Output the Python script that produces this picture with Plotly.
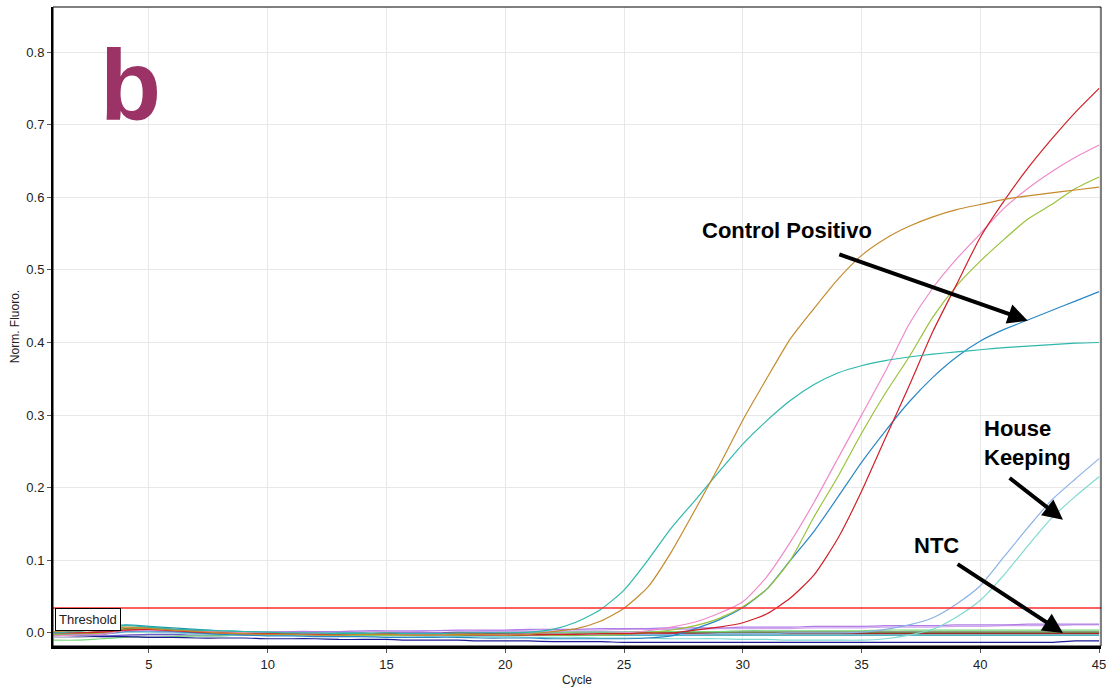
import plotly.graph_objects as go

cycles = list(range(1, 46))

brown = [0.002, 0.003, 0.004, 0.008, 0.006, 0.004, 0.002, 0.0, -0.001, -0.002, -0.002, -0.003, -0.003, -0.002, -0.002,
         -0.003, -0.003, -0.002, -0.002, -0.003, -0.002, 0.002, 0.006, 0.016, 0.034, 0.063, 0.112, 0.17, 0.23, 0.293,
         0.35, 0.405, 0.447, 0.487, 0.52, 0.543, 0.56, 0.573, 0.583, 0.59, 0.597, 0.602, 0.606, 0.61, 0.614]
teal = [0.0, 0.002, 0.006, 0.01, 0.008, 0.005, 0.004, 0.003, 0.002, 0.001, 0.0, 0.0, -0.001, -0.001, 0.0,
        -0.001, -0.001, 0.0, 0.0, 0.0, 0.001, 0.005, 0.015, 0.032, 0.059, 0.1, 0.145, 0.183, 0.222, 0.26,
        0.292, 0.32, 0.342, 0.358, 0.368, 0.375, 0.38, 0.384, 0.387, 0.39, 0.393, 0.395, 0.397, 0.399, 0.4]
pink = [-0.004, -0.003, -0.002, 0.003, 0.004, 0.003, 0.002, 0.001, 0.0, 0.0, -0.001, -0.001, -0.002, -0.002, -0.002,
        -0.002, -0.003, -0.002, -0.002, -0.002, -0.002, -0.002, -0.002, -0.001, 0.0, 0.003, 0.008, 0.015, 0.027, 0.043,
        0.077, 0.125, 0.18, 0.24, 0.3, 0.36, 0.425, 0.475, 0.515, 0.55, 0.585, 0.612, 0.635, 0.655, 0.672]
yellowgreen = [-0.002, -0.001, 0.0, 0.005, 0.006, 0.004, 0.002, 0.001, 0.0, -0.001, -0.002, -0.002, -0.003, -0.003, -0.003,
               -0.003, -0.003, -0.003, -0.002, -0.002, -0.002, -0.003, -0.003, -0.003, -0.002, 0.0, 0.004, 0.01, 0.02, 0.036,
               0.06, 0.1, 0.16, 0.215, 0.275, 0.33, 0.38, 0.435, 0.478, 0.512, 0.542, 0.57, 0.59, 0.612, 0.628]
blue = [-0.003, -0.003, -0.002, 0.002, 0.003, 0.002, 0.0, -0.002, -0.003, -0.004, -0.004, -0.005, -0.005, -0.005, -0.006,
        -0.006, -0.006, -0.006, -0.007, -0.007, -0.007, -0.008, -0.008, -0.008, -0.008, -0.007, -0.004, 0.006, 0.018, 0.035,
        0.06, 0.1, 0.14, 0.187, 0.235, 0.278, 0.318, 0.352, 0.38, 0.402, 0.418, 0.431, 0.444, 0.457, 0.47]
red = [0.0, 0.0, 0.001, 0.004, 0.005, 0.003, 0.001, 0.0, -0.001, -0.001, -0.001, -0.002, -0.002, -0.001, -0.001,
       -0.001, -0.001, 0.0, -0.001, -0.001, -0.002, -0.002, -0.002, -0.001, -0.001, 0.0, 0.0, 0.004, 0.008, 0.014,
       0.026, 0.048, 0.08, 0.13, 0.195, 0.268, 0.34, 0.415, 0.48, 0.545, 0.595, 0.64, 0.68, 0.717, 0.75]
hk_lightblue = [-0.001, -0.001, 0.0, 0.002, 0.002, 0.001, 0.0, 0.0, -0.001, -0.001, -0.001, -0.001, -0.001, -0.001, -0.001,
                -0.001, -0.001, -0.001, -0.001, -0.001, -0.001, -0.002, -0.002, -0.002, -0.002, -0.002, -0.002, -0.002, -0.001, -0.001,
                -0.001, 0.0, 0.0, 0.0, 0.001, 0.005, 0.011, 0.021, 0.04, 0.065, 0.105, 0.145, 0.183, 0.212, 0.24]
hk_lightteal = [-0.004, -0.003, -0.002, 0.001, 0.001, 0.0, -0.001, -0.002, -0.003, -0.003, -0.003, -0.004, -0.004, -0.004, -0.004,
                -0.004, -0.005, -0.005, -0.005, -0.005, -0.006, -0.006, -0.006, -0.007, -0.007, -0.007, -0.008, -0.008, -0.008, -0.009,
                -0.009, -0.01, -0.01, -0.01, -0.01, -0.008, -0.003, 0.005, 0.022, 0.045, 0.08, 0.12, 0.158, 0.188, 0.215]
ntc_purple = [0.0, 0.0, 0.001, 0.002, 0.002, 0.002, 0.001, 0.001, 0.001, 0.001, 0.002, 0.002, 0.002, 0.003, 0.003,
              0.003, 0.003, 0.004, 0.004, 0.004, 0.005, 0.005, 0.005, 0.006, 0.006, 0.006, 0.007, 0.007, 0.007, 0.008,
              0.008, 0.008, 0.009, 0.009, 0.009, 0.01, 0.01, 0.01, 0.011, 0.011, 0.011, 0.012, 0.012, 0.012, 0.012]
ntc_lavender = [-0.002, -0.002, -0.001, 0.001, 0.002, 0.001, 0.0, 0.0, 0.0, 0.001, 0.001, 0.001, 0.002, 0.002, 0.002,
                0.002, 0.003, 0.003, 0.003, 0.003, 0.004, 0.004, 0.004, 0.004, 0.005, 0.005, 0.005, 0.005, 0.006, 0.006,
                0.006, 0.006, 0.007, 0.007, 0.007, 0.008, 0.008, 0.008, 0.009, 0.009, 0.01, 0.01, 0.01, 0.011, 0.011]
ntc_green = [-0.01, -0.01, -0.008, -0.006, -0.006, -0.005, -0.004, -0.004, -0.003, -0.003, -0.003, -0.002, -0.002, -0.002, -0.002,
             -0.002, -0.001, -0.001, -0.001, 0.0, 0.0, 0.0, 0.001, 0.001, 0.001, 0.002, 0.002, 0.002, 0.002, 0.003,
             0.003, 0.003, 0.003, 0.003, 0.003, 0.004, 0.004, 0.004, 0.004, 0.004, 0.004, 0.004, 0.004, 0.004, 0.004]
ntc_navy = [-0.003, -0.004, -0.005, -0.005, -0.006, -0.006, -0.007, -0.007, -0.007, -0.008, -0.008, -0.008, -0.009, -0.009, -0.009,
            -0.01, -0.01, -0.01, -0.011, -0.011, -0.011, -0.012, -0.012, -0.012, -0.013, -0.013, -0.013, -0.013, -0.013, -0.013,
            -0.013, -0.013, -0.013, -0.013, -0.013, -0.013, -0.013, -0.013, -0.013, -0.013, -0.013, -0.013, -0.013, -0.011, -0.011]
base_olive = [-0.001, 0.0, 0.002, 0.006, 0.005, 0.004, 0.003, 0.001, 0.0, -0.001, -0.002, -0.002, -0.003, -0.003, -0.003,
              -0.003, -0.003, -0.003, -0.002, -0.002, -0.002, -0.002, -0.001, -0.001, 0.0, 0.0, 0.0, 0.001, 0.001, 0.001,
              0.001, 0.001, 0.001, 0.001, 0.001, 0.001, 0.001, 0.001, 0.001, 0.001, 0.001, 0.001, 0.001, 0.001, 0.001]
base_darkred = [0.001, 0.0, 0.002, 0.005, 0.007, 0.005, 0.003, 0.001, 0.0, -0.001, -0.001, -0.002, -0.002, -0.002, -0.002,
                -0.003, -0.003, -0.004, -0.004, -0.004, -0.003, -0.003, -0.003, -0.002, -0.002, -0.002, -0.001, -0.001, -0.001, -0.001,
                -0.001, -0.001, -0.001, -0.001, -0.001, -0.001, -0.001, -0.001, -0.001, -0.001, -0.001, -0.001, -0.001, -0.001, -0.001]
base_slate = [-0.003, -0.003, -0.004, -0.003, -0.002, -0.002, -0.003, -0.003, -0.002, -0.002, -0.002, -0.001, -0.001, -0.001, 0.0,
              0.0, 0.0, 0.001, 0.001, 0.001, 0.001, 0.001, 0.001, 0.001, 0.001, 0.001, 0.001, 0.001, 0.001, 0.001,
              0.001, 0.001, 0.001, 0.001, 0.001, 0.001, 0.001, 0.001, 0.001, 0.001, 0.001, 0.001, 0.001, 0.001, 0.001]
base_cyan = [0.0, 0.003, 0.007, 0.011, 0.009, 0.007, 0.005, 0.003, 0.002, 0.001, 0.001, 0.0, 0.0, 0.0, -0.001,
             -0.001, -0.001, -0.001, -0.002, -0.002, -0.002, -0.002, -0.003, -0.003, -0.003, -0.003, -0.003, -0.003, -0.003, -0.003,
             -0.003, -0.003, -0.003, -0.003, -0.003, -0.003, -0.003, -0.003, -0.003, -0.003, -0.003, -0.003, -0.003, -0.003, -0.003]
base_gray = [-0.006, -0.006, -0.005, -0.004, -0.004, -0.004, -0.004, -0.004, -0.003, -0.003, -0.003, -0.003, -0.003, -0.003, -0.003,
             -0.002, -0.002, -0.002, -0.002, -0.002, -0.002, -0.002, -0.002, -0.002, -0.001, -0.001, -0.001, -0.001, -0.001, -0.001,
             0.0, 0.0, 0.0, 0.0, 0.0, 0.0, 0.0, 0.0, 0.0, 0.0, 0.0, 0.0, 0.0, 0.0, 0.0]

threshold = 0.0344

series = [
    ("Gray", base_gray, "#B8B8C8"),
    ("Slate", base_slate, "#6A5ACD"),
    ("Olive", base_olive, "#6B8E23"),
    ("DarkRed", base_darkred, "#A52A2A"),
    ("Cyan", base_cyan, "#1B9AAA"),
    ("NTC green", ntc_green, "#77D877"),
    ("NTC lavender", ntc_lavender, "#D0A8EE"),
    ("NTC purple", ntc_purple, "#B07CE6"),
    ("NTC navy", ntc_navy, "#1C1C96"),
    ("HK 2", hk_lightteal, "#7ED9D0"),
    ("HK 1", hk_lightblue, "#8AB2E6"),
    ("Blue", blue, "#2A88C4"),
    ("Yellowgreen", yellowgreen, "#9AC23A"),
    ("Pink", pink, "#EE8ACB"),
    ("Red", red, "#CF2027"),
    ("Teal", teal, "#2DB8AA"),
    ("Brown", brown, "#C48A2C"),
]

fig = go.Figure()
for name, vals, col in series:
    fig.add_trace(go.Scatter(x=cycles, y=vals, mode="lines", name=name,
                             line=dict(color=col, width=1.2, shape="spline", smoothing=0.6),
                             showlegend=False))

FONT = "Liberation Sans, Arial, sans-serif"

fig.add_shape(type="line", xref="paper", x0=0, x1=1, yref="y", y0=threshold, y1=threshold,
              line=dict(color="#FF2A2A", width=1.5))
fig.add_shape(type="rect", xref="paper", yref="paper", x0=0, x1=1, y0=0, y1=1,
              line=dict(color="black", width=1), layer="above")

annotations = [
    dict(text="Threshold", xref="paper", x=0.002, yref="y", y=threshold, xanchor="left", yanchor="top",
         showarrow=False, bgcolor="white", bordercolor="black", borderwidth=1, borderpad=3,
         font=dict(family=FONT, size=13, color="#222")),
    dict(text="<b>b</b>", xref="paper", x=0.0744, yref="paper", y=0.878, xanchor="center", yanchor="middle",
         showarrow=False, font=dict(family=FONT, size=100, color="#9B3366")),
    dict(text="<b>Control Positivo</b>", xref="x", x=28.2, yref="y", y=0.554, xanchor="left", yanchor="middle",
         showarrow=False, font=dict(family=FONT, size=22, color="black")),
    dict(text="<b>House<br>Keeping</b>", xref="x", x=40.07, yref="y", y=0.262, xanchor="left", yanchor="middle",
         align="left", showarrow=False, font=dict(family=FONT, size=22, color="black")),
    dict(text="<b>NTC</b>", xref="x", x=37.13, yref="y", y=0.12, xanchor="left", yanchor="middle",
         showarrow=False, font=dict(family=FONT, size=22, color="black")),
]
arrows = [
    ((42.0, 0.43), (34.0, 0.522)),
    ((43.48, 0.156), (41.17, 0.215)),
    ((43.48, 0.0), (38.98, 0.096)),
]
for (hx, hy), (tx, ty) in arrows:
    annotations.append(dict(text="", x=hx, y=hy, xref="x", yref="y", ax=tx, ay=ty, axref="x", ayref="y",
                            showarrow=True, arrowhead=2, arrowsize=1.0, arrowwidth=4, arrowcolor="black"))

fig.update_layout(
    width=1115, height=689, autosize=False,
    margin=dict(l=53, r=14, t=7, b=43),
    paper_bgcolor="white", plot_bgcolor="white",
    font=dict(family=FONT, size=13, color="#222"),
    annotations=annotations,
    xaxis=dict(range=[0.96, 45.08], tickvals=[5, 10, 15, 20, 25, 30, 35, 40, 45],
               showgrid=True, gridcolor="#E8E8E8", gridwidth=1, zeroline=False, automargin=False,
               ticks="outside", ticklen=4, tickcolor="#555", tickfont=dict(size=13),
               showline=True, linecolor="black", linewidth=3,
               title=dict(text="Cycle", font=dict(size=12), standoff=6)),
    yaxis=dict(range=[-0.018, 0.862], tickvals=[0, 0.1, 0.2, 0.3, 0.4, 0.5, 0.6, 0.7, 0.8],
               tickformat=".1f", showgrid=True, gridcolor="#E8E8E8", gridwidth=1, zeroline=False,
               automargin=False,
               ticks="outside", ticklen=4, tickcolor="#555", tickfont=dict(size=13),
               showline=True, linecolor="black", linewidth=2,
               title=dict(text="Norm. Fluoro.", font=dict(size=12), standoff=4)),
)

fig.write_html("out.html")
